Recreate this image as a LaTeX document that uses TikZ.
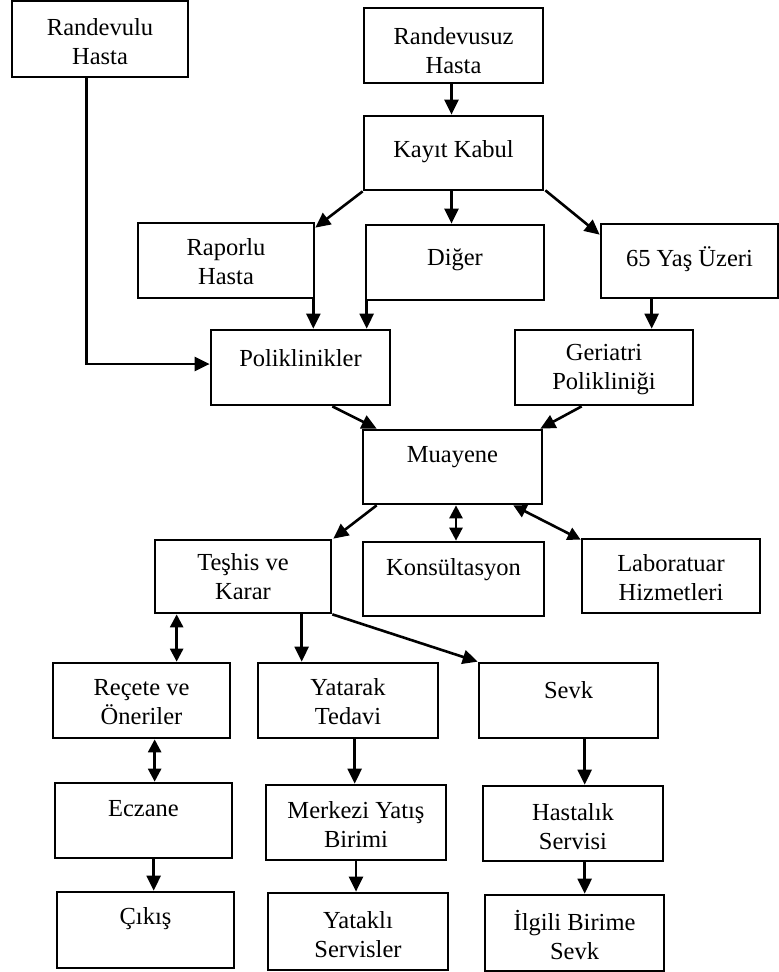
\documentclass[tikz,border=0pt]{standalone}
\usepackage{fontspec}
\setmainfont{Liberation Serif}
\usetikzlibrary{arrows.meta}
\tikzset{
  box/.style={draw=black, line width=2.7pt, inner sep=0pt, fill=white},
  txt/.style={align=center, inner sep=0pt, font=\fontsize{24.5}{29}\selectfont},
  arr/.style={line width=2.6pt, -{Triangle[length=15pt,width=14pt]}},
  darr/.style={line width=2.6pt, {Triangle[length=13pt,width=13pt]}-{Triangle[length=13pt,width=13pt]}}
}
\newcommand{\bx}[7]{%
  \node[box, minimum width={(#4)-(#2)}, minimum height={(#5)-(#3)}] (#1) at ({((#2)+(#4))/2},{((#3)+(#5))/2}) {};
  \node[txt] (#1-t) at ({((#2)+(#4))/2},#6) {#7};
}
\begin{document}
\begin{tikzpicture}[x=1pt,y=-1pt]
\useasboundingbox[fill=white] (0,0) rectangle (779,972);
\bx{rdv}{12}{1}{188}{77}{42}{Randevulu\\Hasta}
\bx{rdz}{364}{8}{543}{83}{51}{Randevusuz\\Hasta}
\bx{kayit}{364}{116}{543}{190}{152}{Kayıt Kabul}
\bx{rap}{138}{223}{314}{298}{262}{Raporlu\\Hasta}
\bx{diger}{366}{225}{544}{300}{260}{Diğer}
\bx{yas}{601}{224}{778}{298}{259}{65 Yaş Üzeri}
\bx{polik}{211}{330}{390}{405}{358}{Poliklinikler}
\bx{ger}{515}{330}{693}{405}{370}{Geriatri\\Polikliniği}
\bx{muay}{363}{430}{542}{504}{457}{Muayene}
\bx{tes}{155}{540}{331}{613}{577}{Teşhis ve\\Karar}
\bx{kons}{363}{542}{544}{616}{570}{Konsültasyon}
\bx{lab}{582}{539}{760}{613}{578}{Laboratuar\\Hizmetleri}
\bx{rec}{53}{663}{230}{738}{702}{Reçete ve\\Öneriler}
\bx{yat}{258}{663}{438}{738}{702}{Yatarak\\Tedavi}
\bx{sevk}{479}{663}{658}{738}{690}{Sevk}
\bx{ecz}{55}{783}{232}{858}{809}{Eczane}
\bx{mer}{266}{785}{446}{860}{825}{Merkezi Yatış\\Birimi}
\bx{has}{483}{786}{663}{861}{827}{Hastalık\\Servisi}
\bx{cik}{57}{892}{234}{968}{919}{Çıkış}
\bx{ytk}{268}{893}{448}{970}{935}{Yataklı\\Servisler}
\bx{ilg}{485}{895}{664}{971}{935}{İlgili Birime\\Sevk}
% connectors
\draw[arr] ([xshift=76pt]rdv.south west) |- ([yshift=3.5pt]polik.west);
\draw[arr] ([xshift=-2pt]rdz.south) -- ([xshift=-2pt]rdz.south |- kayit.north);
\draw[arr] (kayit.south west) -- ([yshift=-6pt]rap.north east);
\draw[arr] ([xshift=-2pt]kayit.south) -- ([xshift=-2pt]kayit.south |- diger.north);
\draw[arr] ([xshift=1pt,yshift=1pt]kayit.south east) -- ([yshift=-12pt]yas.north west);
\draw[arr] ([xshift=-2pt]rap.south east) -- ([xshift=-2pt]rap.south east |- polik.north);
\draw[arr] ([xshift=2pt]diger.south west) -- ([xshift=2pt]diger.south west |- polik.north);
\draw[arr] ([xshift=52pt]yas.south west) -- ([xshift=52pt]yas.south west |- ger.north);
\draw[arr] ([xshift=-59pt]polik.south east) -- ([xshift=15pt]muay.north west);
\draw[arr] ([xshift=68pt]ger.south west) -- ([xshift=-3pt]muay.north east);
\draw[arr] ([xshift=15pt]muay.south west) -- ([xshift=1pt]tes.north east);
\draw[darr] ([xshift=3.5pt]muay.south) -- ([xshift=3.5pt]muay.south |- kons.north);
\draw[darr] ([xshift=-30pt]muay.south east) -- ([yshift=-2pt]lab.north west);
\draw[darr] ([xshift=23pt]tes.south west) -- ([xshift=23pt]tes.south west |- rec.north);
\draw[arr] ([xshift=148pt]tes.south west) -- ([xshift=148pt]tes.south west |- yat.north);
\draw[arr] (tes.south east) -- (sevk.north west);
\draw[darr] ([xshift=103pt]rec.south west) -- ([xshift=103pt]rec.south west |- ecz.north);
\draw[arr] ([xshift=98pt]yat.south west) -- ([xshift=98pt]yat.south west |- mer.north);
\draw[arr] ([xshift=107pt]sevk.south west) -- ([xshift=107pt]sevk.south west |- has.north);
\draw[arr] ([xshift=100pt]ecz.south west) -- ([xshift=100pt]ecz.south west |- cik.north);
\draw[arr] (mer.south) -- (mer.south |- ytk.north);
\draw[arr] ([xshift=103pt]has.south west) -- ([xshift=103pt]has.south west |- ilg.north);
\end{tikzpicture}
\end{document}
